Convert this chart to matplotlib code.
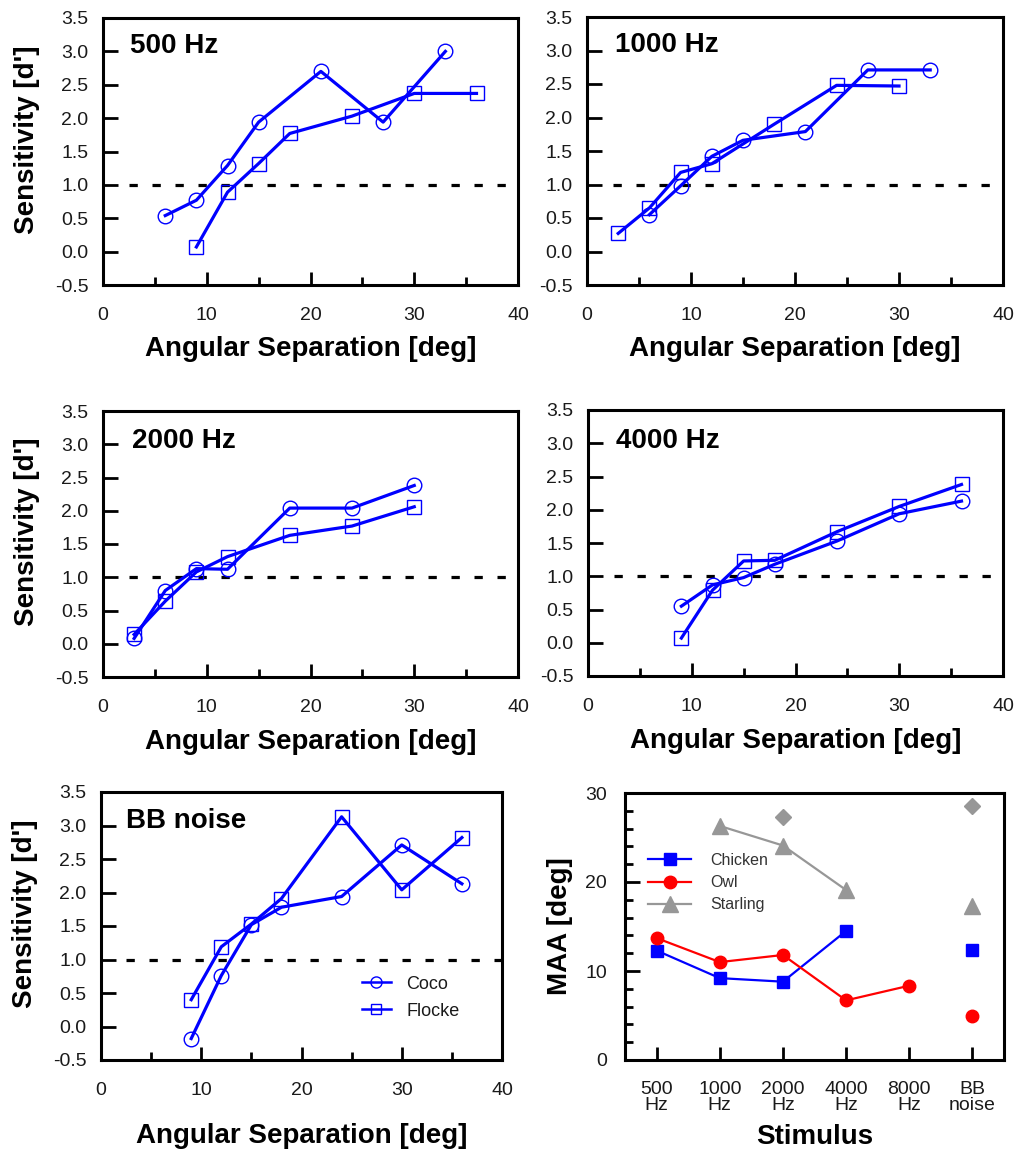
import matplotlib
matplotlib.use("Agg")
import matplotlib.pyplot as plt
from matplotlib.lines import Line2D
from matplotlib.ticker import MultipleLocator, FixedLocator, FormatStrFormatter

plt.rcParams['font.family'] = ['Liberation Sans', 'DejaVu Sans']

W, H = 1017, 1151

# ---------------- data ----------------
panel_titles = ["500 Hz", "1000 Hz", "2000 Hz", "4000 Hz", "BB noise"]

coco_x_500 = [6, 9, 12, 15, 21, 27, 33]
coco_y_500 = [0.54, 0.77, 1.29, 1.94, 2.70, 1.94, 3.00]
flocke_x_500 = [9, 12, 15, 18, 24, 30, 36]
flocke_y_500 = [0.07, 0.89, 1.32, 1.77, 2.03, 2.37, 2.37]

coco_x_1000 = [6, 9, 12, 15, 21, 27, 33]
coco_y_1000 = [0.55, 0.98, 1.42, 1.66, 1.79, 2.71, 2.71]
flocke_x_1000 = [3, 6, 9, 12, 18, 24, 30]
flocke_y_1000 = [0.27, 0.65, 1.18, 1.31, 1.90, 2.48, 2.47]

coco_x_2000 = [3, 6, 9, 12, 18, 24, 30]
coco_y_2000 = [0.08, 0.80, 1.13, 1.12, 2.04, 2.04, 2.38]
flocke_x_2000 = [3, 6, 9, 12, 18, 24, 30]
flocke_y_2000 = [0.14, 0.64, 1.08, 1.31, 1.63, 1.77, 2.06]

coco_x_4000 = [9, 12, 15, 18, 24, 30, 36]
coco_y_4000 = [0.55, 0.87, 0.98, 1.18, 1.53, 1.94, 2.13]
flocke_x_4000 = [9, 12, 15, 18, 24, 30, 36]
flocke_y_4000 = [0.07, 0.79, 1.23, 1.24, 1.67, 2.05, 2.38]

coco_x_bb = [9, 12, 15, 18, 24, 30, 36]
coco_y_bb = [-0.18, 0.76, 1.52, 1.78, 1.94, 2.71, 2.13]
flocke_x_bb = [9, 12, 15, 18, 24, 30, 36]
flocke_y_bb = [0.40, 1.19, 1.53, 1.91, 3.13, 2.04, 2.82]

criterion = 1.0
criterion_span = [2.5, 40]

stimulus_labels = ["500\nHz", "1000\nHz", "2000\nHz", "4000\nHz", "8000\nHz", "BB\nnoise"]
chicken_idx = [0, 1, 2, 3]
chicken_maa = [12.3, 9.2, 8.8, 14.5]
chicken_bb_idx = [5]
chicken_bb_maa = [12.4]
owl_idx = [0, 1, 2, 3, 4]
owl_maa = [13.7, 11.0, 11.8, 6.7, 8.35]
owl_bb_idx = [5]
owl_bb_maa = [4.9]
starling_idx = [1, 2, 3]
starling_maa = [26.3, 24.1, 19.1]
starling_bb_idx = [5]
starling_bb_maa = [17.3]
diamond_idx = [2, 5]
diamond_maa = [27.3, 28.5]

# ---------------- layout ----------------
fig = plt.figure(figsize=(W / 100, H / 100), dpi=100)


def add_ax(l, t, r, b):
    return fig.add_axes([l / W, 1 - b / H, (r - l) / W, (b - t) / H])


BLUE = '#0000ff'
TXT = '#1a1a1a'
TICK_FS = 14
LABEL_FS = 20

rects = [(103, 18, 518, 285), (587, 17, 1003, 285),
         (103, 411, 518, 677), (588, 410, 1003, 676),
         (101, 792, 502, 1060)]
data = [(coco_x_500, coco_y_500, flocke_x_500, flocke_y_500),
        (coco_x_1000, coco_y_1000, flocke_x_1000, flocke_y_1000),
        (coco_x_2000, coco_y_2000, flocke_x_2000, flocke_y_2000),
        (coco_x_4000, coco_y_4000, flocke_x_4000, flocke_y_4000),
        (coco_x_bb, coco_y_bb, flocke_x_bb, flocke_y_bb)]
xlabel_y = [-0.19, -0.19, -0.195, -0.195, -0.235]
title_pos = [(0.065, 0.868), (0.067, 0.868), (0.07, 0.86), (0.068, 0.857), (0.062, 0.866)]
has_ylabel = [True, False, True, False, True]


def style_axes(ax):
    for s in ax.spines.values():
        s.set_linewidth(2.2)
    ax.tick_params(which='both', direction='in', top=False, right=False,
                   width=2.0, colors='black', labelcolor=TXT, labelsize=TICK_FS)


for i, (rect, d) in enumerate(zip(rects, data)):
    ax = add_ax(*rect)
    cx, cy, fx, fy = d
    ax.plot(criterion_span, [criterion, criterion], color='black', lw=2.3,
            ls=(0, (2.6, 4.6)), zorder=1)
    ax.plot(cx, cy, color=BLUE, lw=2.3, marker='o', ms=10.5, mfc='none',
            mec=BLUE, mew=1.0, zorder=3)
    ax.plot(fx, fy, color=BLUE, lw=2.3, marker='s', ms=9.5, mfc='none',
            mec=BLUE, mew=1.0, zorder=3)
    ax.set_xlim(0, 40)
    ax.set_ylim(-0.5, 3.5)
    ax.xaxis.set_major_locator(MultipleLocator(10))
    ax.xaxis.set_minor_locator(MultipleLocator(5))
    ax.yaxis.set_major_locator(MultipleLocator(0.5))
    ax.yaxis.set_major_formatter(FormatStrFormatter('%.1f'))
    style_axes(ax)
    ax.tick_params(axis='x', which='major', length=9.5, pad=15.5)
    ax.tick_params(axis='x', which='minor', length=6)
    ax.tick_params(axis='y', which='major', length=10.5, pad=10.5)
    ax.set_xlabel("Angular Separation [deg]", fontsize=LABEL_FS, fontweight='bold')
    ax.xaxis.set_label_coords(0.5, xlabel_y[i])
    if has_ylabel[i]:
        ax.set_ylabel("Sensitivity [d']", fontsize=LABEL_FS, fontweight='bold')
        ax.yaxis.set_label_coords(-0.153 * 415 / (rect[2] - rect[0]), 0.545)
    ax.text(title_pos[i][0], title_pos[i][1], panel_titles[i], transform=ax.transAxes,
            fontsize=LABEL_FS, fontweight='bold', ha='left', va='baseline', color='black')
    if i == 4:
        handles = [Line2D([], [], color=BLUE, lw=1.8, marker='o', ms=8, mfc='none',
                          mec=BLUE, mew=1.0),
                   Line2D([], [], color=BLUE, lw=1.8, marker='s', ms=7.5, mfc='none',
                          mec=BLUE, mew=1.0)]
        ax.legend(handles, ["Coco", "Flocke"], loc='upper left',
                  bbox_to_anchor=(0.651, 0.315), frameon=False, fontsize=13,
                  handlelength=1.6, handletextpad=0.85, labelspacing=0.55,
                  borderpad=0, borderaxespad=0, labelcolor=TXT)

# ---------------- MAA panel ----------------
ax = add_ax(625, 793, 1004, 1060)
RED = '#ff0000'
GRAY = '#979797'
lc, = ax.plot(chicken_idx, chicken_maa, color=BLUE, lw=1.6, marker='s', ms=8.5,
              mec=BLUE, mfc=BLUE, zorder=3)
ax.plot(chicken_bb_idx, chicken_bb_maa, ls='none', marker='s', ms=8.5, color=BLUE, zorder=3)
lo, = ax.plot(owl_idx, owl_maa, color=RED, lw=1.6, marker='o', ms=9, mec=RED,
              mfc=RED, zorder=3)
ax.plot(owl_bb_idx, owl_bb_maa, ls='none', marker='o', ms=9, color=RED, zorder=3)
ls_, = ax.plot(starling_idx, starling_maa, color=GRAY, lw=1.6, marker='^', ms=11,
               mec=GRAY, mfc=GRAY, zorder=3)
ax.plot(starling_bb_idx, starling_bb_maa, ls='none', marker='^', ms=11, color=GRAY, zorder=3)
ax.plot(diamond_idx, diamond_maa, ls='none', marker='D', ms=8, color=GRAY, zorder=3)
ax.set_xlim(-0.5, 5.5)
ax.set_ylim(0, 30)
ax.xaxis.set_major_locator(FixedLocator(range(len(stimulus_labels))))
ax.set_xticklabels(stimulus_labels, linespacing=0.9)
ax.yaxis.set_major_locator(MultipleLocator(10))
ax.yaxis.set_minor_locator(MultipleLocator(2))
style_axes(ax)
ax.tick_params(axis='x', which='major', length=9.5, pad=15)
ax.tick_params(axis='y', which='major', length=10.5, pad=13)
ax.tick_params(axis='y', which='minor', length=6)
ax.set_xlabel("Stimulus", fontsize=LABEL_FS, fontweight='bold')
ax.xaxis.set_label_coords(0.5, -0.24)
ax.set_ylabel("MAA [deg]", fontsize=LABEL_FS, fontweight='bold')
ax.yaxis.set_label_coords(-0.137, 0.5)
ax.legend([lc, lo, ls_], ["Chicken", "Owl", "Starling"], loc='upper left',
          bbox_to_anchor=(0.061, 0.775), frameon=False, fontsize=11.5,
          handlelength=2.7, handletextpad=1.2, labelspacing=0.45,
          borderpad=0, borderaxespad=0, labelcolor='#333333')

fig.savefig("out.png", dpi=100)
